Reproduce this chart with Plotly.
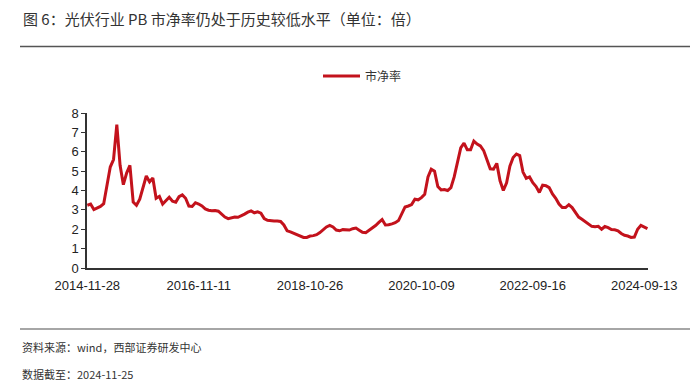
import plotly.graph_objects as go

# ---- data ----
series_name = "市净率"
tick_labels = ["2014-11-28", "2016-11-11", "2018-10-26", "2020-10-09", "2022-09-16", "2024-09-13"]
tick_period_step = 102          # tick labels every 102 weekly periods
sample_step = 3                 # one value read every 3 weekly periods
pb_values = [
    3.24, 3.30, 3.02, 3.10, 3.18, 3.32, 4.18, 5.21, 5.60, 7.40,
    5.30, 4.30, 4.90, 5.30, 3.40, 3.24, 3.55, 4.12, 4.75, 4.45,
    4.65, 3.60, 3.70, 3.30, 3.50, 3.65, 3.45, 3.40, 3.68, 3.77,
    3.60, 3.20, 3.18, 3.37, 3.30, 3.20, 3.05, 2.98, 2.96, 2.97,
    2.93, 2.80, 2.63, 2.55, 2.58, 2.63, 2.62, 2.68, 2.78, 2.88,
    2.95, 2.85, 2.90, 2.83, 2.55, 2.46, 2.43, 2.43, 2.43, 2.40,
    2.22, 1.92, 1.86, 1.80, 1.70, 1.67, 1.58, 1.58, 1.65, 1.67,
    1.72, 1.83, 2.00, 2.12, 2.20, 2.12, 1.96, 1.92, 1.98, 1.98,
    1.96, 2.03, 2.06, 1.95, 1.84, 1.82, 1.94, 2.05, 2.19, 2.35,
    2.50, 2.22, 2.23, 2.28, 2.34, 2.45, 2.80, 3.15, 3.20, 3.27,
    3.55, 3.52, 3.63, 3.80, 4.70, 5.10, 5.00, 4.20, 4.03, 4.05,
    4.00, 4.15, 4.70, 5.40, 6.20, 6.45, 6.10, 6.10, 6.55, 6.40,
    6.30, 6.06, 5.60, 5.12, 5.10, 5.40, 4.50, 4.00, 4.40, 5.25,
    5.70, 5.88, 5.80, 4.95, 4.63, 4.70, 4.40, 4.20, 3.90, 4.28,
    4.25, 4.15, 3.82, 3.60, 3.30, 3.12, 3.12, 3.27, 3.12, 2.90,
    2.63, 2.52, 2.40, 2.25, 2.15, 2.13, 2.15, 2.00, 2.14, 2.08,
    1.98, 1.97, 1.92, 1.78, 1.69, 1.65, 1.58, 1.60, 2.00, 2.20,
    2.12, 2.03,
]
y_ticks = [0, 1, 2, 3, 4, 5, 6, 7, 8]
title_text = "图 6：光伏行业 PB 市净率仍处于历史较低水平（单位：倍）"
source_text = "资料来源：wind，西部证券研发中心"
date_text = "数据截至：2024-11-25"

periods = [i * sample_step for i in range(len(pb_values))]
tick_positions = [i * tick_period_step for i in range(len(tick_labels))]

# ---- layout geometry (pixels) ----
W, H = 700, 391
PL, PR, PT, PB = 87, 648, 113, 268

def px(x):
    return (x - PL) / (PR - PL)

def py(y):
    return (PB - y) / (PB - PT)

LINE_COLOR = "#C3121C"
NUM_FONT = "Arial, Liberation Sans, sans-serif"
CJK_FONT = "Noto Sans CJK SC, sans-serif"

fig = go.Figure()
fig.add_trace(go.Scatter(
    x=periods, y=pb_values, mode="lines", name=series_name,
    line=dict(color=LINE_COLOR, width=3),
))

fig.update_layout(
    width=W, height=H,
    margin=dict(l=PL, r=W - PR, t=PT, b=H - PB, pad=0),
    paper_bgcolor="white", plot_bgcolor="white",
    showlegend=True,
    legend=dict(
        orientation="h", x=px(318), y=py(76), xanchor="left", yanchor="middle",
        itemwidth=37,
        font=dict(family=CJK_FONT, size=12, color="#333333"),
        bgcolor="rgba(0,0,0,0)",
    ),
    xaxis=dict(
        range=[-0.3, 513.5],
        tickmode="array", tickvals=tick_positions, ticktext=tick_labels,
        showline=True, linecolor="#333333", linewidth=1.5,
        ticks="", showgrid=False, zeroline=False,
        ticklabelstandoff=5,
        tickfont=dict(family=NUM_FONT, size=13, color="#222222"),
    ),
    yaxis=dict(
        range=[0, 8], tickmode="array", tickvals=y_ticks,
        showline=True, linecolor="#333333", linewidth=1.5,
        ticks="outside", ticklen=4, tickcolor="#333333", tickwidth=1,
        showgrid=False, zeroline=False,
        tickfont=dict(family=NUM_FONT, size=13, color="#222222"),
    ),
)

# title and separators
fig.add_annotation(xref="paper", yref="paper", x=px(21), y=py(18),
                   xanchor="left", yanchor="middle", showarrow=False,
                   text=title_text, font=dict(family=CJK_FONT, size=15, color="#333333"))
fig.add_shape(type="line", xref="paper", yref="paper",
              x0=px(20), x1=px(690), y0=py(46.5), y1=py(46.5),
              line=dict(color="#555555", width=1.5))
fig.add_shape(type="line", xref="paper", yref="paper",
              x0=px(20), x1=px(690), y0=py(329), y1=py(329),
              line=dict(color="#888888", width=1.5))
fig.add_annotation(xref="paper", yref="paper", x=px(20), y=py(347),
                   xanchor="left", yanchor="middle", showarrow=False,
                   text=source_text, font=dict(family=CJK_FONT, size=11, color="#333333"))
fig.add_annotation(xref="paper", yref="paper", x=px(20), y=py(374),
                   xanchor="left", yanchor="middle", showarrow=False,
                   text=date_text, font=dict(family=CJK_FONT, size=11, color="#333333"))

fig.write_html("out.html", config={"displayModeBar": False},
               post_script="document.body.style.margin='0px';")
